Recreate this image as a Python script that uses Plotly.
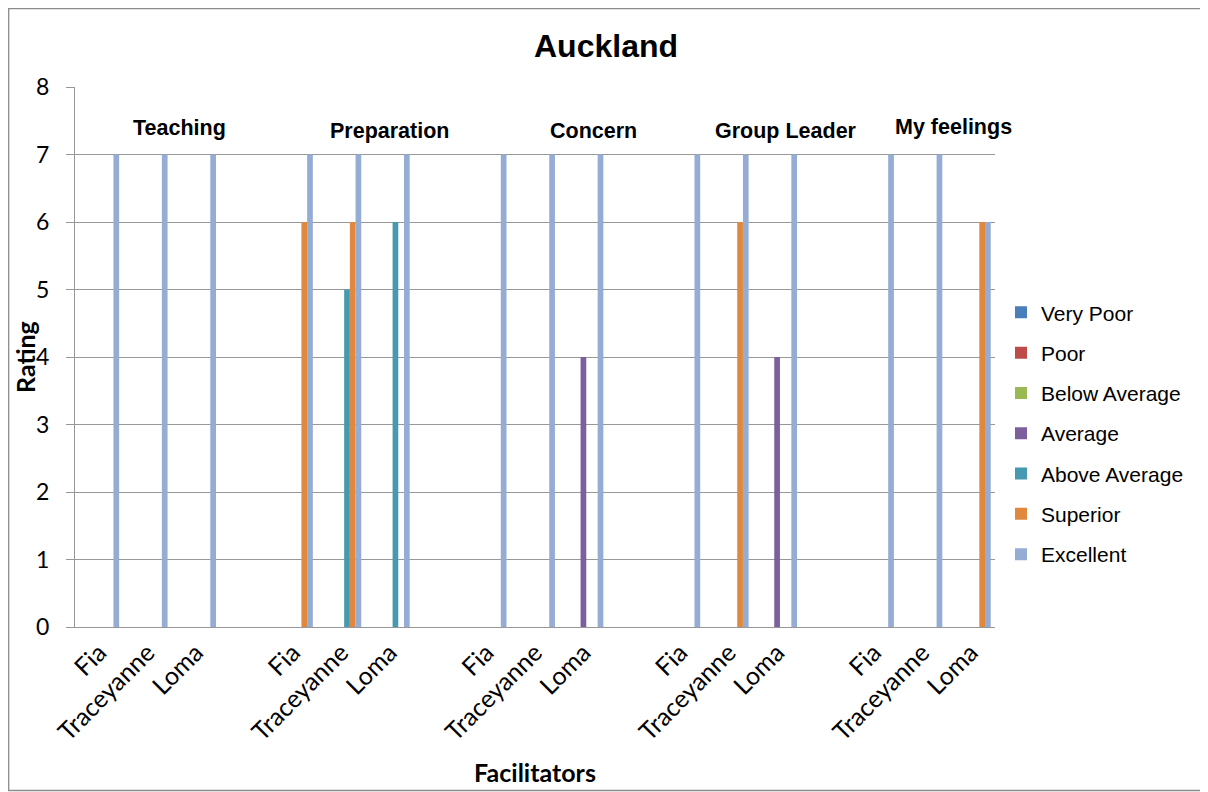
import plotly.graph_objects as go

# ---- data ----
sections = ["Teaching", "Preparation", "Concern", "Group Leader", "My feelings"]
facilitators = ["Fia", "Traceyanne", "Loma"]
series_names = ["Very Poor", "Poor", "Below Average", "Average",
                "Above Average", "Superior", "Excellent"]
# values in order: each section -> Fia, Traceyanne, Loma
very_poor     = [0, 0, 0,  0, 0, 0,  0, 0, 0,  0, 0, 0,  0, 0, 0]
poor          = [0, 0, 0,  0, 0, 0,  0, 0, 0,  0, 0, 0,  0, 0, 0]
below_average = [0, 0, 0,  0, 0, 0,  0, 0, 0,  0, 0, 0,  0, 0, 0]
average       = [0, 0, 0,  0, 0, 0,  0, 0, 4,  0, 0, 4,  0, 0, 0]
above_average = [0, 0, 0,  0, 5, 6,  0, 0, 0,  0, 0, 0,  0, 0, 0]
superior      = [0, 0, 0,  6, 6, 0,  0, 0, 0,  0, 6, 0,  0, 0, 6]
excellent     = [7, 7, 7,  7, 7, 7,  7, 7, 7,  7, 7, 7,  7, 7, 6]
y_ticks = [0, 1, 2, 3, 4, 5, 6, 7, 8]

# ---- styling ----
colors = ["#4A7EBB", "#BE4B48", "#98B954", "#7D5F9E",
          "#4599B0", "#E0883E", "#95ACD5"]
series_values = [very_poor, poor, below_average, average,
                 above_average, superior, excellent]

# x positions: one empty slot between sections
slot = len(facilitators) + 1
x_pos = [s * slot + f for s in range(len(sections)) for f in range(len(facilitators))]
x_labels = [facilitators[f] for s in range(len(sections)) for f in range(len(facilitators))]
n_slots = len(sections) * slot - 1

fig = go.Figure()
for i, (name, vals) in enumerate(zip(series_names, series_values)):
    fig.add_trace(go.Bar(
        x=x_pos, y=vals, name=name,
        marker=dict(color=colors[i], line=dict(width=0)),
        legendgroup=name,
    ))

# section label placement (data coordinates)
label_x = [1.65, 5.99, 10.2, 14.19, 17.64]
label_y = [7.40, 7.35, 7.35, 7.35, 7.41]
for name, lx, ly in zip(sections, label_x, label_y):
    fig.add_annotation(x=lx, y=ly, xref="x", yref="y", text="<b>%s</b>" % name,
                       showarrow=False,
                       font=dict(family="Liberation Sans, Arial", size=21.5, color="#000000"))

# figure geometry (page has an 8px body margin)
W, H = 1200, 784
ML, MR, MT, MB = 67, 213, 79, 165
PW, PH = W - ML - MR, H - MT - MB

# y-axis title
fig.add_annotation(x=(17 - ML) / PW, y=0.5, xref="paper", yref="paper",
                   text="<b>Rating</b>", textangle=-90, showarrow=False,
                   xanchor="center", yanchor="middle",
                   font=dict(family="Lato", size=25, color="#000000"))

grid = "#989898"
fig.update_layout(
    width=W, height=H,
    paper_bgcolor="white", plot_bgcolor="white",
    margin=dict(l=ML, r=MR, t=MT, b=MB, autoexpand=False),
    barmode="group", bargap=1.5 / 8.5, bargroupgap=0,
    title=dict(text="<b>Auckland</b>", x=(606 - 8) / W, xref="container", xanchor="center",
               y=1 - 37.5 / H, yref="container", yanchor="middle",
               font=dict(family="Liberation Sans, Arial", size=32, color="#000000")),
    legend=dict(x=1 + 6 / PW, xanchor="left", y=0.358, yanchor="middle",
                font=dict(family="Liberation Sans, Arial", size=21, color="#000000"),
                tracegroupgap=10, bgcolor="rgba(0,0,0,0)"),
    xaxis=dict(range=[-0.5, n_slots - 0.5], tickmode="array", tickvals=x_pos,
               ticktext=x_labels, tickangle=-45, showgrid=False, zeroline=False,
               showline=True, linecolor=grid, linewidth=1.3, ticks="",
               tickfont=dict(family="Lato", size=25, color="#000000"),
               title=dict(text="<b>Facilitators</b>", standoff=19,
                          font=dict(family="Lato", size=25, color="#000000"))),
    yaxis=dict(range=[0, 8], tickmode="array", tickvals=y_ticks, showgrid=True,
               gridcolor=grid, gridwidth=1.3, zeroline=False, showline=True,
               linecolor=grid, linewidth=1.3, ticks="outside", ticklen=8,
               tickcolor=grid, tickwidth=1.3, ticklabelstandoff=12,
               tickfont=dict(family="Lato", size=23, color="#000000")),
    shapes=[dict(type="rect", xref="paper", yref="paper",
                 x0=(0.7 - ML) / PW, x1=(W + 5 - ML) / PW,
                 y0=(H - MB - 782.5) / PH, y1=(H - MB - 0.7) / PH,
                 line=dict(color="#8c8c8c", width=1.3), layer="below")],
)

fig.write_html("out.html")
